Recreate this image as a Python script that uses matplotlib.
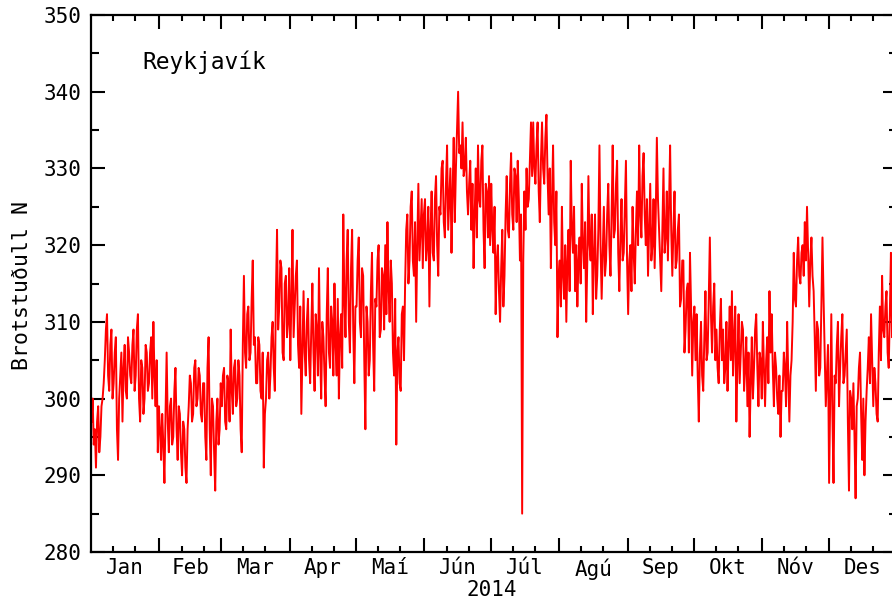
import numpy as np
import matplotlib
matplotlib.use("Agg")
import matplotlib.pyplot as plt
from matplotlib.transforms import blended_transform_factory

# Refractivity (N units), Reykjavík 2014: two readings per day
# (first half of day, second half of day)
jan = [297, 294, 291, 299, 295, 300, 305, 311, 301, 309, 302, 308, 292, 303, 297, 307,
       300, 306, 302, 309, 303, 311, 297, 304, 300, 306, 302, 308, 310, 299, 293]
jan_b = [300, 296, 297, 293, 299, 302, 309, 303, 307, 300, 306, 296, 300, 306, 304, 301,
         308, 303, 307, 301, 309, 300, 305, 298, 307, 301, 306, 300, 303, 305, 299]
feb = [296, 298, 289, 306, 293, 300, 295, 304, 292, 298, 290, 296, 289, 299, 302, 298,
       305, 300, 303, 297, 302, 292, 308, 290, 299, 288, 300, 296]
feb_b = [292, 294, 298, 297, 299, 294, 301, 296, 299, 293, 297, 291, 296, 303, 297, 304,
         299, 304, 298, 302, 295, 304, 296, 300, 293, 297, 294, 302]
mar = [299, 304, 296, 302, 309, 298, 305, 300, 303, 293, 316, 304, 312, 306, 318, 308,
       302, 307, 300, 291, 300, 306, 303, 310, 301, 322, 312, 317, 305, 316, 310]
mar_b = [303, 297, 303, 297, 301, 304, 299, 305, 296, 307, 306, 311, 305, 313, 307, 302,
         308, 301, 306, 298, 305, 300, 308, 304, 314, 309, 318, 306, 315, 308, 317]
apr = [305, 322, 312, 318, 304, 298, 314, 303, 313, 302, 315, 301, 309, 317, 300, 308,
       299, 317, 304, 310, 315, 303, 300, 311, 324, 308, 322, 306, 322, 302]
apr_b = [313, 308, 316, 307, 312, 306, 306, 310, 305, 309, 306, 311, 303, 306, 310, 303,
         311, 306, 312, 303, 307, 313, 308, 304, 313, 318, 310, 317, 309, 312]
mai = [312, 321, 308, 316, 296, 310, 305, 319, 301, 312, 320, 309, 316, 320, 323, 310,
       315, 303, 294, 308, 301, 312, 315, 324, 318, 327, 316, 310, 328, 322, 317]
mai_b = [318, 310, 317, 305, 312, 303, 314, 307, 313, 318, 308, 317, 309, 311, 314, 318,
         306, 313, 306, 302, 311, 305, 322, 315, 325, 318, 323, 320, 318, 326, 324]
jun = [326, 320, 312, 327, 318, 329, 316, 324, 331, 321, 333, 326, 319, 334, 330, 340,
       333, 336, 330, 327, 328, 322, 317, 330, 333, 325, 333, 317, 327, 329]
jun_b = [318, 325, 322, 319, 326, 320, 325, 330, 323, 328, 322, 330, 327, 323, 335, 332,
         330, 329, 334, 324, 331, 328, 324, 321, 326, 331, 322, 328, 321, 320]
jul = [328, 319, 311, 320, 310, 322, 316, 329, 321, 332, 322, 329, 331, 318, 285, 327,
       330, 326, 336, 336, 328, 336, 323, 336, 328, 337, 324, 317, 333, 320, 308]
jul_b = [322, 325, 318, 314, 317, 312, 324, 322, 328, 324, 330, 323, 326, 324, 318, 322,
         325, 331, 329, 330, 333, 327, 331, 330, 334, 329, 330, 326, 323, 327, 316]
agu = [318, 325, 313, 310, 322, 331, 319, 314, 312, 321, 328, 317, 310, 329, 318, 311,
       324, 316, 333, 313, 325, 318, 328, 316, 333, 322, 331, 314, 326, 319, 331]
agu_b = [312, 316, 320, 318, 314, 322, 325, 320, 318, 315, 320, 323, 318, 320, 324, 319,
         313, 322, 320, 319, 316, 324, 320, 324, 321, 328, 319, 321, 318, 325, 318]
sep = [311, 320, 325, 315, 327, 333, 321, 332, 320, 316, 328, 320, 317, 334, 322, 314,
       330, 321, 318, 333, 316, 327, 318, 324, 313, 318, 309, 315, 319, 303]
sep_b = [318, 314, 319, 322, 320, 324, 329, 324, 326, 322, 318, 326, 324, 326, 318, 322,
         319, 327, 325, 322, 322, 317, 322, 312, 318, 306, 314, 306, 312, 310]
okt = [312, 311, 297, 310, 301, 314, 306, 321, 306, 315, 309, 302, 313, 309, 304, 301,
       312, 314, 308, 297, 311, 306, 309, 304, 299, 295, 308, 304, 311, 299, 305]
okt_b = [305, 303, 306, 303, 308, 305, 313, 311, 312, 305, 304, 309, 305, 302, 310, 307,
         305, 303, 312, 305, 302, 310, 301, 308, 306, 302, 300, 309, 304, 306, 300]
nov = [310, 299, 308, 314, 311, 299, 304, 298, 295, 301, 304, 310, 297, 305, 319, 312,
       321, 315, 320, 323, 325, 312, 321, 314, 301, 309, 304, 321, 306, 303]
nov_b = [304, 305, 302, 306, 304, 306, 300, 303, 301, 306, 299, 303, 303, 310, 313, 318,
         316, 319, 316, 318, 319, 318, 316, 308, 310, 303, 312, 313, 299, 307]
des = [289, 311, 289, 302, 310, 304, 311, 303, 309, 288, 300, 302, 287, 300, 306, 292,
       290, 301, 308, 311, 299, 302, 297, 312, 316, 308, 314, 304, 319, 312, 319]
des_b = [300, 298, 303, 307, 299, 308, 302, 306, 297, 301, 296, 295, 299, 304, 298, 300,
         297, 304, 302, 305, 304, 298, 306, 305, 309, 312, 306, 311, 308, 315, 313]

month_labels = ["Jan", "Feb", "Mar", "Apr", "Maí", "Jún", "Júl", "Agú", "Sep", "Okt", "Nóv", "Des"]
month_lengths = [31, 28, 31, 30, 31, 30, 31, 31, 30, 31, 30, 31]
y_major = [280, 290, 300, 310, 320, 330, 340, 350]
station = "Reykjavík"
ylabel = "Brotstuðull N"
year_label = "2014"

first = np.array(jan + feb + mar + apr + mai + jun + jul + agu + sep + okt + nov + des, dtype=float)
second = np.array(jan_b + feb_b + mar_b + apr_b + mai_b + jun_b + jul_b + agu_b + sep_b
                  + okt_b + nov_b + des_b, dtype=float)
values = np.column_stack([first, second]).ravel()
times = np.arange(len(values)) / 2.0 + 0.25

FONT = "DejaVu Sans Mono"
fig = plt.figure(figsize=(8.92, 6.02), dpi=100)
ax = fig.add_axes([91 / 892, 50 / 602, 806 / 892, 537 / 602])
ax.plot(times, values, color="#ff0000", lw=1.4)

ax.set_xlim(0, 365)
ax.set_ylim(280, 350)

starts = np.concatenate([[0], np.cumsum(month_lengths)[:-1]])
ax.set_xticks(starts[1:])
ax.set_xticks(np.concatenate([starts + 10, starts + 20]), minor=True)
ax.set_xticklabels([])
ax.set_yticks(y_major)
ax.set_yticks(np.arange(285, 350, 10), minor=True)
ax.set_yticklabels([str(v) for v in y_major], fontsize=15, family=FONT)

ax.tick_params(which="both", direction="in", top=True, right=True, width=1.5, color="black")
ax.tick_params(axis="y", which="major", length=10, pad=7)
ax.tick_params(axis="y", which="minor", length=6)
ax.tick_params(axis="x", which="major", length=10)
ax.tick_params(axis="x", which="minor", length=4.5)
for s in ax.spines.values():
    s.set_linewidth(1.6)

trans = blended_transform_factory(ax.transData, ax.transAxes)
mids = starts + np.array(month_lengths) / 2
for m, lab in zip(mids, month_labels):
    ax.text(m, -0.012, lab, transform=trans, ha="center", va="top", fontsize=15, family=FONT)

fig.text(492 / 892, (602 - 590) / 602, year_label, ha="center", va="center", fontsize=15, family=FONT)
fig.text(22 / 892, (602 - 285) / 602, ylabel, ha="center", va="center", rotation=90, fontsize=15.5, family=FONT)
ax.text(0.064, 0.9, station, transform=ax.transAxes, ha="left", va="baseline", fontsize=16.5, family=FONT)

fig.savefig("out.png", dpi=100)
